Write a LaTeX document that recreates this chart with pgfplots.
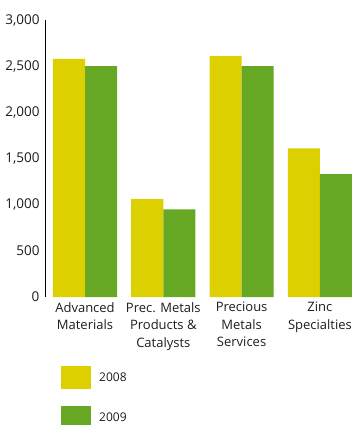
\documentclass[border=0pt]{standalone}
\usepackage{fontspec}
\setmainfont{Open Sans}
\usepackage{pgfplots}
\pgfplotsset{compat=1.18}
\definecolor{y2008}{RGB}{221,208,0}
\definecolor{y2009}{RGB}{102,168,36}
\definecolor{txt}{RGB}{30,28,28}
\begin{document}
\fontsize{13pt}{17.5pt}\selectfont
\begin{tikzpicture}[x=1pt,y=1pt]
\useasboundingbox (0,0) rectangle (352,425);
\begin{axis}[
    at={(45pt,128pt)}, anchor=south west,
    scale only axis,
    width=307pt, height=277pt,
    xmin=-0.511, xmax=3.41,
    ymin=0, ymax=3000,
    axis x line=none,
    axis y line*=left,
    y axis line style={line width=1pt, black},
    ytick={0,500,...,3000},
    major tick length=0pt,
    yticklabel style={/pgf/number format/1000 sep={,}, /pgf/number format/assume math mode=true, text=txt, font=\fontsize{13.5pt}{15pt}\selectfont, xshift=-1pt},
    xtick=data,
    ybar, bar width=0.41,
    every axis plot/.append style={draw=none},
    legend cell align=left,
    legend style={draw=none, fill=none, at={(axis description cs:0.052,-0.249)}, anchor=north west,
        row sep=17pt, inner sep=0pt, text=txt, font=\fontsize{12pt}{14pt}\selectfont,
        nodes={inner sep=0pt}},
    legend image code/.code={\fill[#1] (0pt,-11.5pt) rectangle (30pt,11.5pt);},
    clip=false,
]
\addplot[fill=y2008, bar shift=-0.205] coordinates {(0,2580) (1,1060) (2,2610) (3,1610)};
\addplot[fill=y2009, bar shift=0.205] coordinates {(0,2500) (1,950) (2,2500) (3,1330)};
\legend{\hspace{8pt}2008,\hspace{8pt}2009}
\foreach \i/\lab in {0/{Advanced\\Materials},1/{Prec. Metals\\Products \&\\Catalysts},2/{Precious\\Metals\\Services},3/{Zinc\\Specialties}} {
  \edef\temp{\noexpand\node[anchor=north, align=center, text=txt, inner sep=0pt, font=\noexpand\fontsize{13pt}{17.5pt}\noexpand\selectfont] at (axis cs:\i,0) [yshift=-5pt] {\unexpanded\expandafter{\lab}};}
  \temp
}
\end{axis}
\end{tikzpicture}
\end{document}
